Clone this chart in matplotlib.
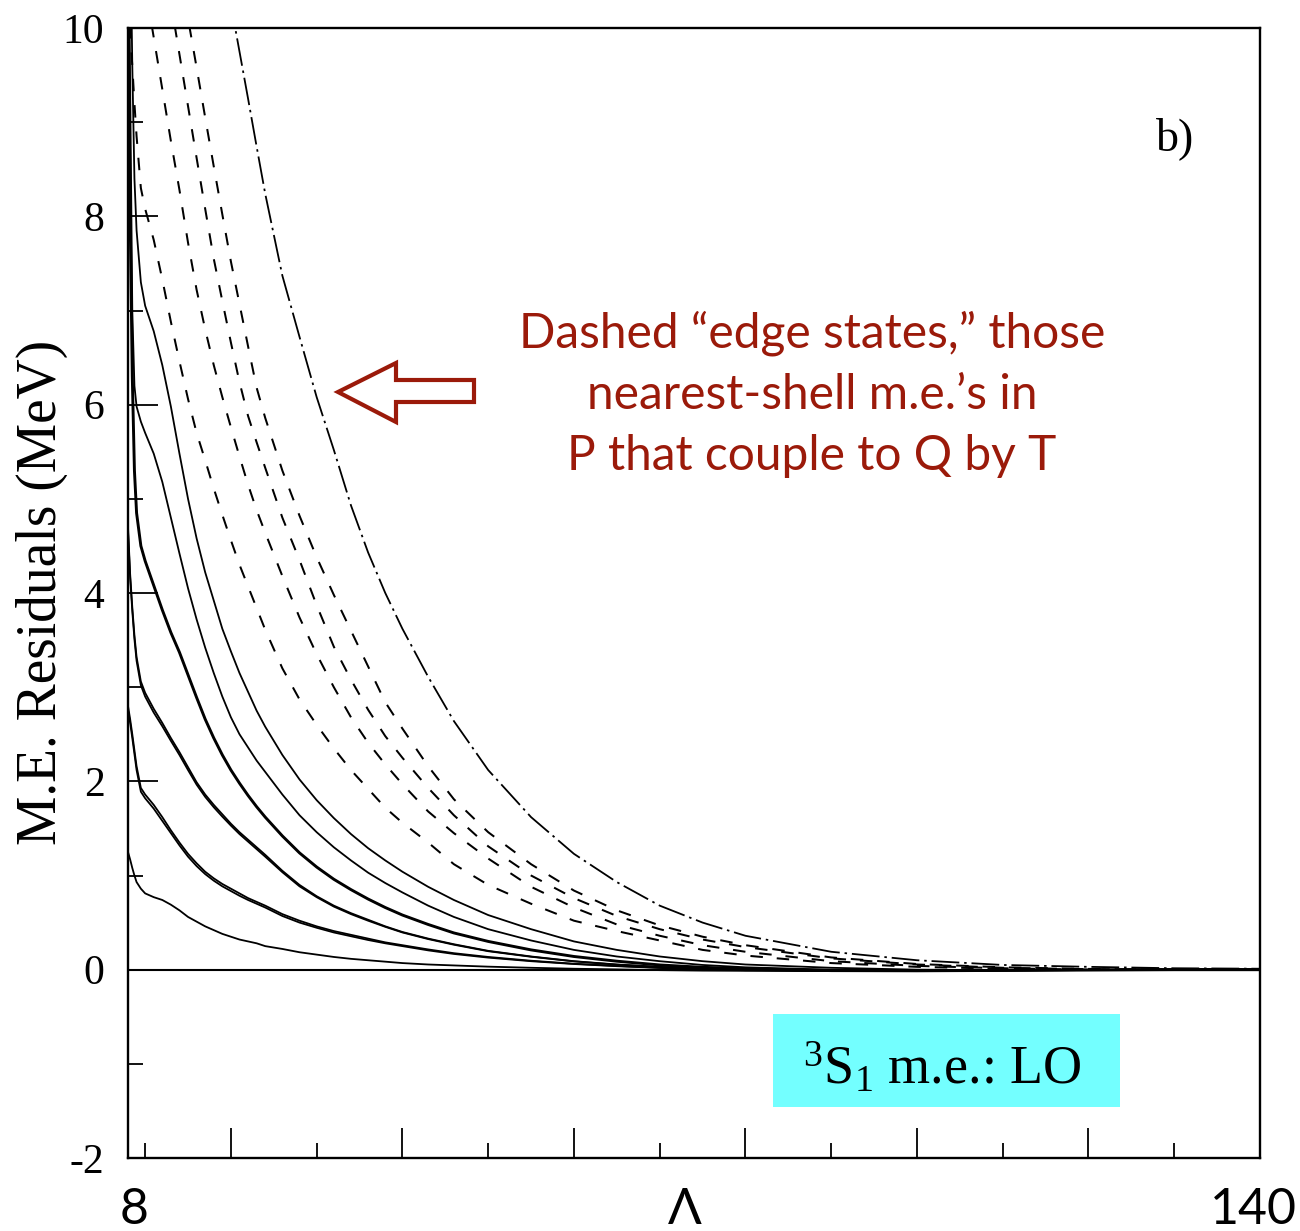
import matplotlib
matplotlib.use("Agg")
import matplotlib.pyplot as plt
from matplotlib.patches import Polygon, Rectangle

# cutoff grid (Lambda) shared by all residual curves
LAM = [8, 8.25, 8.5, 8.75, 9, 9.5, 10, 11, 12, 13, 14, 15, 16, 17, 18, 19, 20,
       21, 22, 23, 24, 26, 28, 30, 32, 34, 36, 38, 40, 43, 46, 50, 55, 60, 65,
       70, 75, 80, 90, 100, 110, 120, 130, 140]

# solid curves: ordinary P-space matrix elements
res_a = [1.25, 1.17, 1.08, 1.00, 0.93, 0.86, 0.81, 0.77, 0.74, 0.69, 0.63, 0.56,
         0.51, 0.46, 0.42, 0.38, 0.35, 0.32, 0.30, 0.28, 0.25, 0.22, 0.185, 0.16,
         0.135, 0.115, 0.10, 0.085, 0.07, 0.055, 0.045, 0.032, 0.02, 0.01, 0.003,
         -0.005, -0.01, -0.012, -0.012, -0.01, -0.006, -0.003, 0.0, 0.0]
res_b1 = [2.80, 2.66, 2.50, 2.33, 2.16, 1.93, 1.86, 1.75, 1.62, 1.48, 1.35, 1.23,
          1.13, 1.04, 0.97, 0.91, 0.86, 0.81, 0.76, 0.72, 0.68, 0.59, 0.52, 0.46,
          0.41, 0.37, 0.33, 0.29, 0.26, 0.215, 0.175, 0.135, 0.095, 0.063, 0.04,
          0.02, 0.005, -0.005, -0.012, -0.01, -0.006, -0.003, 0.0, 0.0]
res_b2 = [2.76, 2.62, 2.46, 2.29, 2.12, 1.89, 1.82, 1.71, 1.58, 1.45, 1.32, 1.20,
          1.10, 1.015, 0.945, 0.885, 0.835, 0.785, 0.74, 0.70, 0.66, 0.57, 0.50,
          0.445, 0.395, 0.355, 0.315, 0.28, 0.25, 0.205, 0.167, 0.128, 0.09, 0.06,
          0.037, 0.018, 0.003, -0.006, -0.012, -0.01, -0.006, -0.003, 0.0, 0.0]
res_c1 = [4.70, 4.20, 3.85, 3.55, 3.32, 3.06, 2.94, 2.77, 2.62, 2.46, 2.31, 2.15,
          1.99, 1.86, 1.75, 1.65, 1.55, 1.46, 1.38, 1.30, 1.22, 1.05, 0.90, 0.78,
          0.68, 0.60, 0.53, 0.46, 0.40, 0.33, 0.27, 0.20, 0.14, 0.09, 0.055, 0.03,
          0.01, -0.003, -0.012, -0.012, -0.008, -0.004, 0.0, 0.0]
res_c2 = [4.66, 4.16, 3.81, 3.51, 3.28, 3.02, 2.90, 2.73, 2.585, 2.43, 2.28, 2.12,
          1.965, 1.835, 1.725, 1.625, 1.53, 1.44, 1.36, 1.28, 1.20, 1.035, 0.885,
          0.77, 0.67, 0.59, 0.52, 0.455, 0.395, 0.325, 0.265, 0.196, 0.137, 0.088,
          0.053, 0.028, 0.009, -0.004, -0.012, -0.012, -0.008, -0.004, 0.0, 0.0]
res_d = [10.5, 8.0, 6.3, 5.3, 4.85, 4.50, 4.34, 4.08, 3.82, 3.58, 3.37, 3.13,
         2.89, 2.66, 2.46, 2.28, 2.12, 1.98, 1.85, 1.73, 1.62, 1.42, 1.24, 1.09,
         0.96, 0.85, 0.75, 0.66, 0.58, 0.48, 0.39, 0.30, 0.21, 0.14, 0.09, 0.05,
         0.025, 0.01, -0.01, -0.012, -0.008, -0.004, 0.0, 0.0]
res_e = [12.0, 9.4, 7.0, 6.2, 5.98, 5.82, 5.70, 5.48, 5.18, 4.80, 4.42, 4.05,
         3.72, 3.42, 3.15, 2.90, 2.68, 2.50, 2.36, 2.22, 2.10, 1.86, 1.64, 1.46,
         1.30, 1.16, 1.03, 0.92, 0.82, 0.68, 0.56, 0.43, 0.31, 0.21, 0.14, 0.09,
         0.05, 0.025, 0.0, -0.01, -0.008, -0.004, 0.0, 0.0]
res_f = [13.0, 11.2, 9.6, 8.4, 7.85, 7.30, 7.05, 6.78, 6.42, 5.98, 5.48, 5.00,
         4.58, 4.22, 3.92, 3.62, 3.38, 3.15, 2.95, 2.75, 2.58, 2.28, 2.02, 1.80,
         1.61, 1.44, 1.29, 1.16, 1.04, 0.88, 0.74, 0.58, 0.43, 0.30, 0.21, 0.14,
         0.09, 0.055, 0.02, 0.0, -0.005, -0.003, 0.0, 0.0]

# dashed curves: edge states
edge_1 = [10.3, 9.95, 9.6, 9.2, 8.85, 8.3, 8.08, 7.75, 7.33, 6.88, 6.46, 6.06,
          5.70, 5.41, 5.11, 4.83, 4.56, 4.30, 4.07, 3.84, 3.61, 3.20, 2.87, 2.60,
          2.35, 2.12, 1.92, 1.72, 1.56, 1.35, 1.12, 0.90, 0.70, 0.52, 0.41, 0.31,
          0.21, 0.15, 0.07, 0.03, 0.01, 0.0, 0.0, 0.0]
edge_2 = [11.6, 11.5, 11.35, 11.2, 11.05, 10.75, 10.45, 9.9, 9.35, 8.8, 8.28,
          7.72, 7.22, 6.80, 6.42, 6.08, 5.76, 5.45, 5.15, 4.88, 4.64, 4.18, 3.74,
          3.35, 3.0, 2.68, 2.41, 2.18, 1.97, 1.68, 1.45, 1.18, 0.88, 0.66, 0.48,
          0.36, 0.26, 0.19, 0.09, 0.04, 0.015, 0.0, 0.0, 0.0]
edge_3 = [13.0, 12.9, 12.75, 12.6, 12.45, 12.2, 11.9, 11.35, 10.8, 10.27, 9.72,
          9.17, 8.62, 8.08, 7.55, 7.1, 6.66, 6.24, 5.88, 5.6, 5.33, 4.80, 4.35,
          3.87, 3.43, 3.08, 2.76, 2.48, 2.25, 1.93, 1.64, 1.31, 1.0, 0.76, 0.57,
          0.43, 0.32, 0.24, 0.12, 0.055, 0.02, 0.005, 0.0, 0.0]
edge_4 = [13.9, 13.8, 13.65, 13.5, 13.35, 13.1, 12.8, 12.25, 11.7, 11.2, 10.65,
          10.1, 9.58, 9.05, 8.53, 8.02, 7.52, 7.07, 6.62, 6.18, 5.86, 5.30, 4.82,
          4.38, 3.98, 3.60, 3.22, 2.84, 2.56, 2.16, 1.81, 1.46, 1.12, 0.84, 0.63,
          0.47, 0.35, 0.26, 0.13, 0.06, 0.025, 0.008, 0.0, 0.0]

# dash-dot curve
outer = [16.5, 16.4, 16.25, 16.1, 16.0, 15.75, 15.5, 15.0, 14.5, 14.0, 13.5,
         13.0, 12.5, 12.0, 11.5, 11.0, 10.25, 9.75, 9.25, 8.74, 8.24, 7.37, 6.72,
         6.08, 5.52, 4.93, 4.43, 4.00, 3.62, 3.11, 2.64, 2.12, 1.62, 1.23, 0.93,
         0.68, 0.50, 0.36, 0.19, 0.10, 0.05, 0.03, 0.015, 0.01]

Y_TICKS = [-2, 0, 2, 4, 6, 8, 10]
Y_MINOR = [-1, 1, 3, 5, 7, 9]
X_MAJOR = [20, 40, 60, 80, 100, 120]
X_MINOR = [10, 30, 50, 70, 90, 110, 130]

NOTE_LINES = ["Dashed \u201cedge states,\u201d those",
              "nearest-shell m.e.\u2019s in",
              "P that couple to Q by T"]
NOTE_RED = "#9b1a0a"

plt.rcParams['font.family'] = 'Liberation Serif'
plt.rcParams['axes.unicode_minus'] = False
plt.rcParams['lines.scale_dashes'] = False
plt.rcParams['mathtext.fontset'] = 'custom'
plt.rcParams['mathtext.rm'] = 'Liberation Serif'
plt.rcParams['mathtext.it'] = 'Liberation Serif:italic'

W, H = 1300, 1231
fig = plt.figure(figsize=(W / 100, H / 100), dpi=100)


def fpos(x, y):
    # pixel position -> figure fraction
    return x / W, 1 - y / H


ax = fig.add_axes([128 / W, 1 - 1158 / H, (1260 - 128) / W, (1158 - 28) / H])
ax.set_xlim(8, 140)
ax.set_ylim(-2, 10)

ax.axhline(0, color='black', lw=1.5, zorder=1)

for ys in (res_a, res_b1, res_b2, res_c1, res_c2, res_e, res_f):
    ax.plot(LAM, ys, color='black', lw=1.3, solid_joinstyle='round')
ax.plot(LAM, res_d, color='black', lw=2.1, solid_joinstyle='round')

for ys in (edge_1, edge_2, edge_3, edge_4):
    ax.plot(LAM, ys, color='black', lw=1.45, dashes=(9, 10))
ax.plot(LAM, outer, color='black', lw=1.3, dashes=(20, 3.5, 1.8, 3.5))

for side in ('left', 'right', 'top', 'bottom'):
    ax.spines[side].set_linewidth(1.7)

ax.set_yticks(Y_TICKS, labels=[str(v) for v in Y_TICKS])
ax.set_yticks(Y_MINOR, minor=True)
ax.set_xticks(X_MAJOR, labels=[])
ax.set_xticks(X_MINOR, minor=True)
ax.tick_params(which='both', direction='in', top=False, right=False, width=1.3)
ax.tick_params(which='major', length=21.5)
ax.tick_params(which='minor', length=10.8)
ax.tick_params(axis='y', which='major', labelsize=30, pad=17)

# axis annotations below the frame
for label, xc in (("8", 134), ("\u039b", 685), ("140", 1253)):
    fig.text(*fpos(xc, 1224), label, ha='center', va='baseline',
             fontsize=36, family='Lato')

fig.text(*fpos(42, 592), "M.E. Residuals (MeV)", rotation=90,
         ha='center', va='center', fontsize=40)

fig.text(*fpos(1156, 150), "b)", ha='left', va='baseline', fontsize=33)

for line, base in zip(NOTE_LINES, (347, 409, 470)):
    fig.text(*fpos(812, base), line, ha='center', va='baseline',
             fontsize=34.5, family='Lato', color=NOTE_RED)

# hollow arrow pointing at the dashed curves
arrow_px = [(338, 392), (396, 363), (396, 380), (474, 380),
            (474, 402), (396, 402), (396, 422)]
fig.patches.append(Polygon([fpos(x, y) for x, y in arrow_px], closed=True,
                           transform=fig.transFigure, facecolor='white',
                           edgecolor=NOTE_RED, lw=3, joinstyle='miter'))

# label box
bx0, by0 = fpos(773, 1107)
bx1, by1 = fpos(1120, 1014)
fig.patches.append(Rectangle((bx0, by0), bx1 - bx0, by1 - by0,
                             transform=fig.transFigure, facecolor='#73ffff',
                             edgecolor='none'))
fig.text(*fpos(942, 1085), r"$^{3}$S$_{1}$ m.e.: LO", ha='center',
         va='baseline', fontsize=39)

fig.savefig("out.png", dpi=100)
